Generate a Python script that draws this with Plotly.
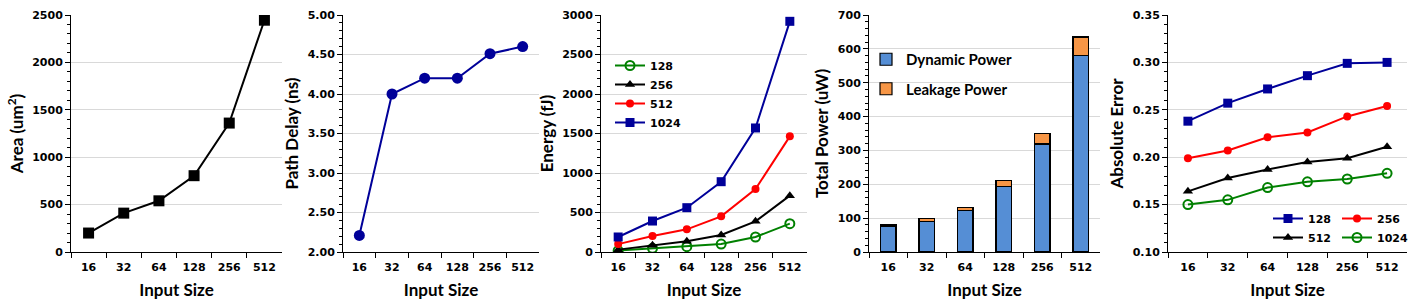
import plotly.graph_objects as go
from plotly.subplots import make_subplots

sizes = ["16", "32", "64", "128", "256", "512"]
area = [200, 410, 540, 805, 1360, 2445]
delay = [2.21, 4.00, 4.20, 4.20, 4.51, 4.60]
energy_128 = [18, 46, 67, 101, 190, 359]
energy_256 = [30, 85, 135, 215, 388, 713]
energy_512 = [100, 203, 287, 451, 797, 1464]
energy_1024 = [190, 392, 561, 890, 1570, 2920]
dyn_power = [77, 89, 122, 194, 319, 581]
leak_power = [3.5, 9, 10, 18, 30, 54]
err_128 = [0.238, 0.257, 0.272, 0.286, 0.299, 0.300]
err_256 = [0.199, 0.207, 0.221, 0.226, 0.243, 0.254]
err_512 = [0.164, 0.178, 0.187, 0.195, 0.199, 0.211]
err_1024 = [0.150, 0.155, 0.168, 0.174, 0.177, 0.183]

W, H = 1426, 305
NAVY = "#000099"
GREEN = "#008000"
RED = "#ff0000"
BLACK = "#000000"

fig = make_subplots(rows=1, cols=5)

# 1 Area
fig.add_trace(go.Scatter(x=sizes, y=area, mode="lines+markers", showlegend=False,
                         line=dict(color=BLACK, width=2),
                         marker=dict(symbol="square", size=11, color=BLACK)), 1, 1)
# 2 Delay
fig.add_trace(go.Scatter(x=sizes, y=delay, mode="lines+markers", showlegend=False,
                         line=dict(color=NAVY, width=2),
                         marker=dict(symbol="circle", size=11, color=NAVY)), 1, 2)
# 3 Energy
fig.add_trace(go.Scatter(x=sizes, y=energy_128, name="128", mode="lines+markers", legend="legend",
                         line=dict(color=GREEN, width=2),
                         marker=dict(symbol="circle-open", size=9, color=GREEN, line=dict(width=2))), 1, 3)
fig.add_trace(go.Scatter(x=sizes, y=energy_256, name="256", mode="lines+markers", legend="legend",
                         line=dict(color=BLACK, width=2),
                         marker=dict(symbol="triangle-up", size=9, color=BLACK)), 1, 3)
fig.add_trace(go.Scatter(x=sizes, y=energy_512, name="512", mode="lines+markers", legend="legend",
                         line=dict(color=RED, width=2),
                         marker=dict(symbol="circle", size=8, color=RED)), 1, 3)
fig.add_trace(go.Scatter(x=sizes, y=energy_1024, name="1024", mode="lines+markers", legend="legend",
                         line=dict(color=NAVY, width=2),
                         marker=dict(symbol="square", size=9, color=NAVY)), 1, 3)
# 4 Power
fig.add_trace(go.Bar(x=sizes, y=dyn_power, name="Dynamic Power", legend="legend2", legendgroup="d",
                     marker=dict(color="#558ed5", line=dict(color=BLACK, width=1.2)), width=0.4), 1, 4)
fig.add_trace(go.Bar(x=sizes, y=leak_power, name="Leakage Power", legend="legend2", legendgroup="l",
                     marker=dict(color="#f79646", line=dict(color=BLACK, width=1.2)), width=0.4), 1, 4)
# 5 Error
fig.add_trace(go.Scatter(x=sizes, y=err_128, name="128", mode="lines+markers", legend="legend3",
                         line=dict(color=NAVY, width=2),
                         marker=dict(symbol="square", size=9, color=NAVY)), 1, 5)
fig.add_trace(go.Scatter(x=sizes, y=err_256, name="256", mode="lines+markers", legend="legend4",
                         line=dict(color=RED, width=2),
                         marker=dict(symbol="circle", size=8, color=RED)), 1, 5)
fig.add_trace(go.Scatter(x=sizes, y=err_512, name="512", mode="lines+markers", legend="legend3",
                         line=dict(color=BLACK, width=2),
                         marker=dict(symbol="triangle-up", size=9, color=BLACK)), 1, 5)
fig.add_trace(go.Scatter(x=sizes, y=err_1024, name="1024", mode="lines+markers", legend="legend4",
                         line=dict(color=GREEN, width=2),
                         marker=dict(symbol="circle-open", size=9, color=GREEN, line=dict(width=2))), 1, 5)

tickfont = dict(family="DejaVu Sans", size=11, color=BLACK, weight="bold")
titlefont = dict(family="Lato", size=17, color=BLACK, weight="bold")

xdom = [(71, 282), (343, 539), (601, 807), (869, 1100), (1168, 1407)]
ydom = [1 - 252 / H, 1 - 15 / H]
yspec = [
    dict(range=[0, 2500], dtick=500, minor=100, fmt="", title="Area (um<sup>2</sup>)"),
    dict(range=[2, 5], dtick=0.5, minor=0.1, fmt=".2f", title="Path Delay (ns)"),
    dict(range=[0, 3000], dtick=500, minor=100, fmt="", title="Energy (fJ)"),
    dict(range=[0, 700], dtick=100, minor=20, fmt="", title="Total Power (uW)"),
    dict(range=[0.10, 0.35], dtick=0.05, minor=0.01, fmt=".2f", title="Absolute Error"),
]

for i in range(5):
    sfx = "" if i == 0 else str(i + 1)
    fig.layout["xaxis" + sfx].update(
        domain=[xdom[i][0] / W, xdom[i][1] / W], type="category", range=[-0.5, 5.5],
        showline=True, linecolor=BLACK, linewidth=1, showgrid=False, automargin=False,
        ticks="outside", tickson="boundaries", ticklen=5, tickcolor=BLACK,
        ticklabelstandoff=5,
        tickfont=tickfont, title=dict(text="Input Size", font=titlefont, standoff=10),
        zeroline=False, fixedrange=True)
    s = yspec[i]
    fig.layout["yaxis" + sfx].update(
        domain=ydom, range=s["range"], dtick=s["dtick"], tickformat=s["fmt"],
        showline=True, linecolor=BLACK, linewidth=1, automargin=False,
        showgrid=True, gridcolor="#d9d9d9", gridwidth=1, zeroline=False,
        ticks="outside", ticklen=5, tickcolor=BLACK,
        minor=dict(dtick=s["minor"], ticks="outside", ticklen=3, tickcolor=BLACK, showgrid=False),
        tickfont=tickfont, title=dict(text=s["title"], font=titlefont, standoff=4),
        fixedrange=True)

legfont = dict(family="DejaVu Sans", size=11, color=BLACK, weight="bold")
fig.update_layout(
    width=W, height=H, margin=dict(l=0, r=0, t=0, b=0, autoexpand=False),
    paper_bgcolor="white", plot_bgcolor="white", barmode="stack",
    legend=dict(x=610 / W, y=1 - 51 / H, xanchor="left", yanchor="top",
                bgcolor="rgba(0,0,0,0)", font=legfont, tracegroupgap=0),
    legend2=dict(x=866 / W, y=1 - 43 / H, xanchor="left", yanchor="top",
                 bgcolor="rgba(0,0,0,0)", traceorder="grouped", tracegroupgap=7,
                 font=dict(family="Lato", size=15, color=BLACK, weight="bold")),
    legend3=dict(x=1268 / W, y=1 - 204 / H, xanchor="left", yanchor="top",
                 bgcolor="rgba(0,0,0,0)", font=legfont),
    legend4=dict(x=1337 / W, y=1 - 204 / H, xanchor="left", yanchor="top",
                 bgcolor="rgba(0,0,0,0)", font=legfont),
)

fig.write_html("out.html", config={"displayModeBar": False, "staticPlot": True},
               post_script="document.body.style.margin='0';document.body.style.overflow='hidden';")
